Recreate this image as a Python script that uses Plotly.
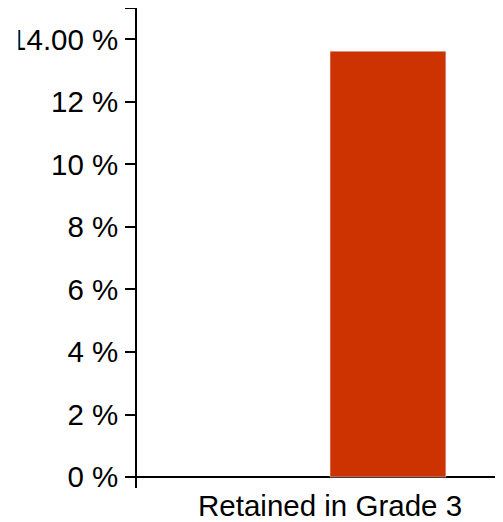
import plotly.graph_objects as go

categories = ["Retained in Grade 3"]
series_a = [None]
series_b = [13.62]
tick_values = [0, 2, 4, 6, 8, 10, 12, 14, 15]
tick_labels = ["0 %", "2 %", "4 %", "6 %", "8 %", "10 %", "12 %", "14.00 %", ""]

FONT = "Liberation Sans, Arial, sans-serif"

fig = go.Figure()
fig.add_trace(go.Bar(x=categories, y=series_a, marker_color="#cc3300", showlegend=False))
fig.add_trace(go.Bar(x=categories, y=series_b, marker_color="#cc3300", showlegend=False))

fig.update_layout(
    width=495, height=514,
    margin=dict(l=129, r=0, t=0, b=34),
    paper_bgcolor="white", plot_bgcolor="white",
    barmode="group", bargap=0.4, bargroupgap=0,
    font=dict(family=FONT, size=29.5, color="black"),
    showlegend=False,
    shapes=[dict(type="rect", xref="paper", yref="y", layer="above",
                 x0=-0.36, x1=-0.324, y0=13.0, y1=14.9,
                 fillcolor="white", line=dict(width=0))],
)
fig.update_xaxes(
    range=[-0.5, 0.448], showgrid=False, showline=False, ticks="",
    zeroline=False, automargin=False, tickfont=dict(size=29.5),
    ticklabelstandoff=-3,
)
fig.update_yaxes(
    range=[-0.35, 15], showgrid=False, showline=True, linecolor="black", linewidth=1.5,
    ticks="outside", ticklen=10, tickwidth=1.5, tickcolor="black",
    tickvals=tick_values, ticktext=tick_labels, tickfont=dict(size=29.5),
    ticklabelstandoff=1,
    zeroline=True, zerolinecolor="black", zerolinewidth=2, automargin=False,
)
fig.write_html("out.html")
